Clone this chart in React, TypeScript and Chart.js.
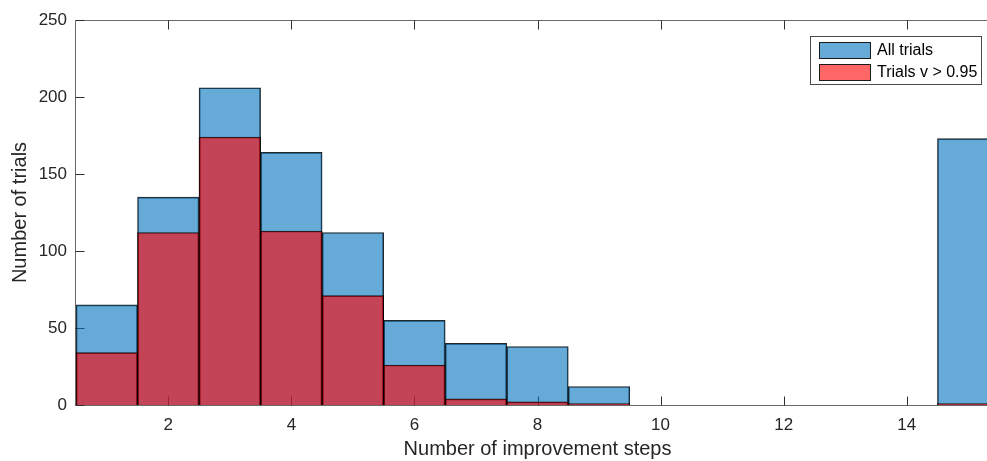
import React, { useEffect, useRef } from "react";
import { Chart, registerables } from "chart.js";

Chart.register(...registerables);

// Histogram bins: number of improvement steps per trial
const steps = [1, 2, 3, 4, 5, 6, 7, 8, 9, 10, 11, 12, 13, 14, 15];
const allTrials = [65, 135, 206, 164, 112, 55, 40, 38, 12, 0, 0, 0, 0, 0, 173];
const highValueTrials = [34, 112, 174, 113, 71, 26, 4, 2, 1, 0, 0, 0, 0, 0, 1];
const seriesLabels = ["All trials", "Trials v > 0.95"];
const xTickValues = [2, 4, 6, 8, 10, 12, 14];
const yTickValues = [0, 50, 100, 150, 200, 250];

const FONT = "'Liberation Sans', Arial, Helvetica, sans-serif";
const AXIS_TEXT = "#262626";
const BLUE_FILL = "rgba(0, 114, 189, 0.6)";
const RED_FILL = "rgba(255, 0, 0, 0.6)";
const EDGE = "rgba(0, 0, 0, 0.85)";
const TICK_LEN = 9;

// Box around the axes with inward tick marks, drawn beneath the translucent bars
const axesBox = {
  id: "axesBox",
  beforeDatasetsDraw(chart: any) {
    const { ctx, chartArea: a, scales } = chart;
    const L = Math.round(a.left) - 0.5;
    const R = Math.round(a.right) - 0.5;
    const T = Math.round(a.top) + 0.5;
    const B = Math.round(a.bottom) + 0.5;
    ctx.save();
    ctx.lineWidth = 1;
    ctx.strokeStyle = "#6a6a6a";
    ctx.beginPath();
    ctx.moveTo(L, B);
    ctx.lineTo(L, T);
    ctx.lineTo(R, T);
    ctx.lineTo(R, B);
    ctx.lineTo(L, B);
    ctx.stroke();

    ctx.strokeStyle = "#303030";
    ctx.beginPath();
    for (const v of xTickValues) {
      const x = Math.round(scales.x.getPixelForValue(v)) + 0.5;
      ctx.moveTo(x, B);
      ctx.lineTo(x, B - TICK_LEN);
      ctx.moveTo(x, T);
      ctx.lineTo(x, T + TICK_LEN);
    }
    for (const v of yTickValues) {
      const y = Math.round(scales.y.getPixelForValue(v)) + 0.5;
      ctx.moveTo(L, y);
      ctx.lineTo(L + TICK_LEN, y);
      ctx.moveTo(R, y);
      ctx.lineTo(R - TICK_LEN, y);
    }
    ctx.stroke();
    ctx.restore();
  },
};

// Boxed legend in the upper right corner of the plot
const boxedLegend = {
  id: "boxedLegend",
  afterDraw(chart: any) {
    const { ctx } = chart;
    const fills = [BLUE_FILL, RED_FILL];
    const bx = 810.5;
    const by = 36.5;
    const bw = 171;
    const bh = 48;
    ctx.save();
    ctx.fillStyle = "#ffffff";
    ctx.fillRect(bx, by, bw, bh);
    ctx.lineWidth = 1;
    ctx.strokeStyle = "#4a4a4a";
    ctx.strokeRect(bx, by, bw, bh);
    ctx.font = `16px ${FONT}`;
    ctx.textBaseline = "middle";
    ctx.textAlign = "left";
    seriesLabels.forEach((label, i) => {
      const sy = 42.5 + i * 22;
      ctx.fillStyle = "#ffffff";
      ctx.fillRect(819.5, sy, 51, 16);
      ctx.fillStyle = fills[i];
      ctx.fillRect(819.5, sy, 51, 16);
      ctx.strokeStyle = "#1a1a1a";
      ctx.strokeRect(819.5, sy, 51, 16);
      ctx.fillStyle = "#000000";
      ctx.fillText(label, 877, sy + 8.5);
    });
    ctx.restore();
  },
};

export default function App() {
  const canvasRef = useRef<HTMLCanvasElement | null>(null);

  useEffect(() => {
    const canvas = canvasRef.current;
    if (!canvas) return;
    const chart = new Chart(canvas, {
      type: "bar",
      data: {
        datasets: [
          {
            label: seriesLabels[0],
            data: steps.map((s, i) => ({ x: s, y: allTrials[i] })),
            backgroundColor: BLUE_FILL,
            borderColor: EDGE,
            borderWidth: 1,
            order: 2,
          },
          {
            label: seriesLabels[1],
            data: steps.map((s, i) => ({ x: s, y: highValueTrials[i] })),
            backgroundColor: RED_FILL,
            borderColor: EDGE,
            borderWidth: 1,
            order: 1,
          },
        ],
      },
      options: {
        animation: false,
        responsive: false,
        devicePixelRatio: 1,
        events: [],
        layout: { padding: { top: 20, left: 0, right: 0, bottom: 0 } },
        datasets: {
          bar: {
            grouped: false,
            barPercentage: 1,
            categoryPercentage: 1,
            borderSkipped: "start",
          },
        },
        plugins: {
          legend: { display: false },
          tooltip: { enabled: false },
        },
        scales: {
          x: {
            type: "linear",
            min: 0.5,
            max: 15.5,
            offset: false,
            grid: { display: false, drawTicks: false },
            border: { display: false },
            afterBuildTicks: (scale: any) => {
              scale.ticks = xTickValues.map((v) => ({ value: v }));
            },
            afterFit: (scale: any) => {
              scale.height = 56;
            },
            ticks: {
              padding: 10,
              maxRotation: 0,
              autoSkip: false,
              color: AXIS_TEXT,
              font: { family: FONT, size: 17 },
            },
            title: {
              display: true,
              text: "Number of improvement steps",
              color: AXIS_TEXT,
              font: { family: FONT, size: 20 },
              padding: { top: 0, bottom: 0 },
            },
          },
          y: {
            min: 0,
            max: 250,
            grid: { display: false, drawTicks: false },
            border: { display: false },
            afterBuildTicks: (scale: any) => {
              scale.ticks = yTickValues.map((v) => ({ value: v }));
            },
            afterFit: (scale: any) => {
              scale.width = 76;
            },
            ticks: {
              padding: 9,
              color: AXIS_TEXT,
              font: { family: FONT, size: 17 },
            },
            title: {
              display: true,
              text: "Number of trials",
              color: AXIS_TEXT,
              font: { family: FONT, size: 20 },
              padding: { top: 8, bottom: 0 },
            },
          },
        },
      },
      plugins: [axesBox, boxedLegend],
    } as any);
    return () => chart.destroy();
  }, []);

  return (
    <div
      style={{
        position: "fixed",
        left: 0,
        top: 0,
        width: 987,
        height: 461,
        overflow: "hidden",
        background: "#ffffff",
      }}
    >
      <canvas ref={canvasRef} width={999} height={461} style={{ display: "block" }} />
    </div>
  );
}
